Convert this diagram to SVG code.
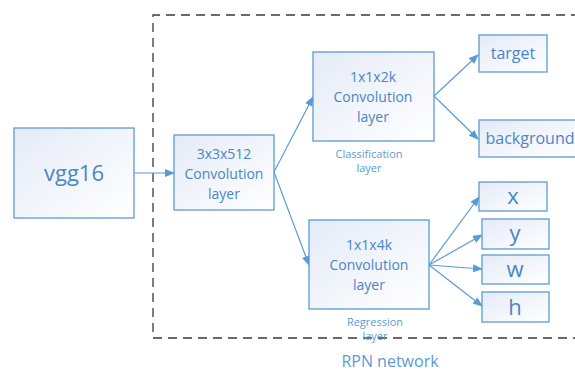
<svg xmlns="http://www.w3.org/2000/svg" width="575" height="371" viewBox="0 0 575 371">
<defs>
<linearGradient id="g" x1="0" y1="0" x2="1" y2="1">
<stop offset="0" stop-color="#e4ebf7"/>
<stop offset="1" stop-color="#ffffff"/>
</linearGradient>
<marker id="a" markerWidth="10" markerHeight="8" refX="9" refY="4" orient="auto" markerUnits="userSpaceOnUse">
<path d="M0,0 L10,4 L0,8 Z" fill="#5b9bd5"/>
</marker>
<style>
.box{fill:url(#g);stroke:#5b9bd5;stroke-width:1.3}
.t{font-family:"Open Sans","Liberation Sans",sans-serif;fill:#4a86c5;text-anchor:middle}
.s{font-family:"Open Sans","Liberation Sans",sans-serif;fill:#5b9bd5;text-anchor:middle;font-size:11px}
.c{stroke:#5b9bd5;stroke-width:1.2;fill:none;marker-end:url(#a)}
</style>
</defs>
<rect width="575" height="371" fill="#fff"/>
<g id="rpn-frame">
<path d="M580,15 H153 V338 H580" fill="none" stroke="#3a3a3a" stroke-width="1.3" stroke-dasharray="9,6"/>
<text class="t" x="390" y="367" font-size="16" style="fill:#5b9bd5">RPN network</text>
</g>
<g id="connectors">
<line class="c" x1="134" y1="173" x2="174" y2="173"/>
<line class="c" x1="274" y1="172" x2="313" y2="97"/>
<line class="c" x1="274" y1="172" x2="309" y2="265"/>
<line class="c" x1="434" y1="96" x2="478" y2="55"/>
<line class="c" x1="434" y1="96" x2="478" y2="139"/>
<line class="c" x1="429" y1="265" x2="479" y2="197"/>
<line class="c" x1="429" y1="265" x2="482" y2="235"/>
<line class="c" x1="429" y1="265" x2="482" y2="269"/>
<line class="c" x1="429" y1="265" x2="482" y2="306"/>
</g>
<g id="vgg16">
<rect class="box" x="14" y="128" width="120" height="90"/>
<text class="t" x="74" y="181" font-size="22">vgg16</text>
</g>
<g id="conv3x3">
<rect class="box" x="174" y="135" width="100" height="75"/>
<text class="t" x="224" y="159" font-size="14">3x3x512</text>
<text class="t" x="224" y="179" font-size="14">Convolution</text>
<text class="t" x="224" y="199" font-size="14">layer</text>
</g>
<g id="conv2k">
<rect class="box" x="313" y="52" width="121" height="89"/>
<text class="t" x="373" y="82" font-size="14">1x1x2k</text>
<text class="t" x="373" y="102" font-size="14">Convolution</text>
<text class="t" x="373" y="122" font-size="14">layer</text>
<text class="s" x="369" y="158">Classification</text>
<text class="s" x="369" y="172">layer</text>
</g>
<g id="conv4k">
<rect class="box" x="309" y="220" width="120" height="89"/>
<text class="t" x="369" y="250" font-size="14">1x1x4k</text>
<text class="t" x="369" y="270" font-size="14">Convolution</text>
<text class="t" x="369" y="290" font-size="14">layer</text>
<text class="s" x="375" y="326">Regression</text>
<text class="s" x="375" y="340">layer</text>
</g>
<g id="target">
<rect class="box" x="479" y="35" width="68" height="37"/>
<text class="t" x="513" y="59" font-size="16">target</text>
</g>
<g id="background">
<rect class="box" x="479" y="120" width="100" height="37"/>
<text class="t" x="530" y="144" font-size="16">background</text>
</g>
<g id="x">
<rect class="box" x="479" y="182" width="68" height="29"/>
<text class="t" x="513" y="204" font-size="22">x</text>
</g>
<g id="y">
<rect class="box" x="482" y="219" width="67" height="30"/>
<text class="t" x="515" y="241" font-size="22">y</text>
</g>
<g id="w">
<rect class="box" x="482" y="255" width="67" height="29"/>
<text class="t" x="515" y="277" font-size="22">w</text>
</g>
<g id="h">
<rect class="box" x="482" y="292" width="67" height="30"/>
<text class="t" x="515" y="315" font-size="22">h</text>
</g>
</svg>
